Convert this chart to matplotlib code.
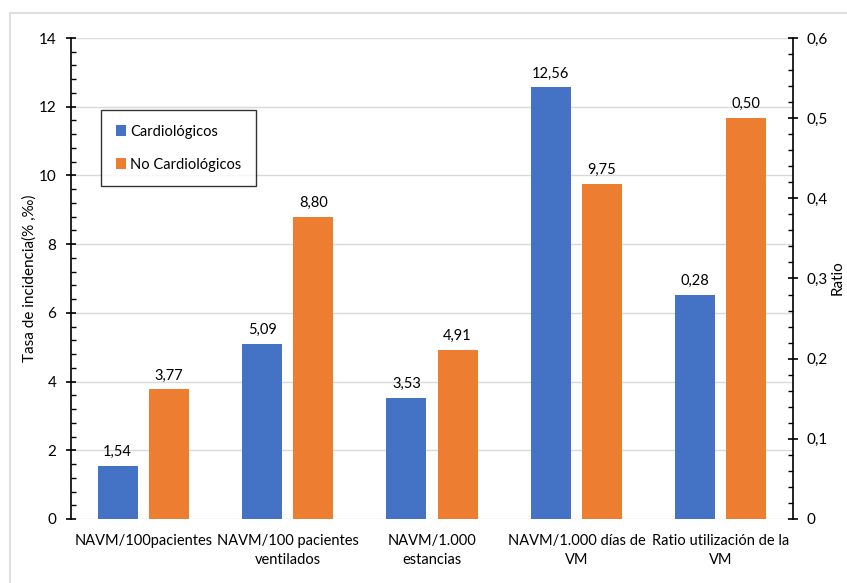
import matplotlib.pyplot as plt
import numpy as np
from matplotlib.patches import Rectangle
from matplotlib.ticker import MultipleLocator, FuncFormatter

plt.rcParams['font.family'] = ['Lato', 'DejaVu Sans']

categories = [
    "NAVM/100pacientes",
    "NAVM/100 pacientes\nventilados",
    "NAVM/1.000\nestancias",
    "NAVM/1.000 días de\nVM",
    "Ratio utilización de la\nVM",
]
cardio = [1.54, 5.09, 3.53, 12.56]
no_cardio = [3.77, 8.80, 4.91, 9.75]
ratio_cardio = 0.28
ratio_no_cardio = 0.50

BLUE = "#4472C4"
ORANGE = "#ED7D31"

fig = plt.figure(figsize=(8.47, 5.83), dpi=100)
fig.patches.append(Rectangle((10 / 847, -0.1), 1.2, (583 - 13) / 583 + 0.1,
                             transform=fig.transFigure, fill=False,
                             edgecolor="#d9d9d9", linewidth=1.2))
ax = fig.add_axes([71 / 847, 64 / 583, 722 / 847, 481 / 583])
ax2 = ax.twinx()

w = 0.277
off = 0.177
x = np.arange(len(cardio))

b1 = ax.bar(x - off, cardio, w, color=BLUE, label="Cardiológicos", zorder=3)
b2 = ax.bar(x + off, no_cardio, w, color=ORANGE, label="No Cardiológicos", zorder=3)
r1 = ax2.bar(4 - off, ratio_cardio, w, color=BLUE, zorder=3)
r2 = ax2.bar(4 + off, ratio_no_cardio, w, color=ORANGE, zorder=3)

def comma(v, nd):
    return f"{v:.{nd}f}".replace(".", ",")

for bars, vals in [(b1, cardio), (b2, no_cardio)]:
    for b, v in zip(bars, vals):
        ax.annotate(comma(v, 2), (b.get_x() + b.get_width() / 2, v),
                    xytext=(0, 5), textcoords="offset points",
                    ha="center", va="bottom", fontsize=10.5)
for b, v in [(r1[0], ratio_cardio), (r2[0], ratio_no_cardio)]:
    ax2.annotate(comma(v, 2), (b.get_x() + b.get_width() / 2, v),
                 xytext=(0, 5), textcoords="offset points",
                 ha="center", va="bottom", fontsize=10.5)

ax.set_xlim(-0.5, 4.5)
ax.set_ylim(0, 14)
ax2.set_ylim(0, 0.6)

ax.yaxis.set_major_locator(MultipleLocator(2))
ax.yaxis.set_minor_locator(MultipleLocator(0.4))
ax2.yaxis.set_major_locator(MultipleLocator(0.1))
ax2.yaxis.set_minor_locator(MultipleLocator(0.02))
ax2.yaxis.set_major_formatter(FuncFormatter(lambda v, p: "0" if abs(v) < 1e-9 else comma(v, 1)))

ax.grid(axis="y", which="major", color="#d9d9d9", linewidth=1, zorder=0)
ax.set_axisbelow(True)

for a in (ax, ax2):
    a.spines["top"].set_visible(False)
    a.spines["bottom"].set_visible(False)
ax.spines["right"].set_visible(False)
ax.spines["left"].set_linewidth(1.2)
ax2.spines["right"].set_linewidth(1.2)
ax2.spines["left"].set_visible(False)

ax.tick_params(axis="y", which="major", direction="inout", length=7, width=1.2,
               labelsize=11, pad=7)
ax.tick_params(axis="y", which="minor", direction="in", length=3.5, width=1)
ax2.tick_params(axis="y", which="major", direction="inout", length=7, width=1.2,
                labelsize=11, pad=6)
ax2.tick_params(axis="y", which="minor", direction="in", length=3.5, width=1)

ax.set_xticks(range(len(categories)))
ax.set_xticklabels(categories, fontsize=10.5, linespacing=1.4)
ax.tick_params(axis="x", length=0, pad=11)

# axis titles placed in figure pixels
fig.text(30 / 847, 1 - 278 / 583, "Tasa de incidencia(% ,‰)", fontsize=11,
         rotation=90, ha="center", va="center")
fig.text(838 / 847, 1 - 278 / 583, "Ratio", fontsize=11,
         rotation=90, ha="center", va="center")

leg = ax.legend(loc="upper left", bbox_to_anchor=(30 / 722, (519 - 110) / 481),
                frameon=True, fancybox=False, edgecolor="black",
                fontsize=10.5, handlelength=0.7, handleheight=0.7,
                labelspacing=1.3, borderpad=1.0, handletextpad=0.3,
                borderaxespad=0)
leg.get_frame().set_linewidth(1)

fig.savefig("out.png", dpi=100)
